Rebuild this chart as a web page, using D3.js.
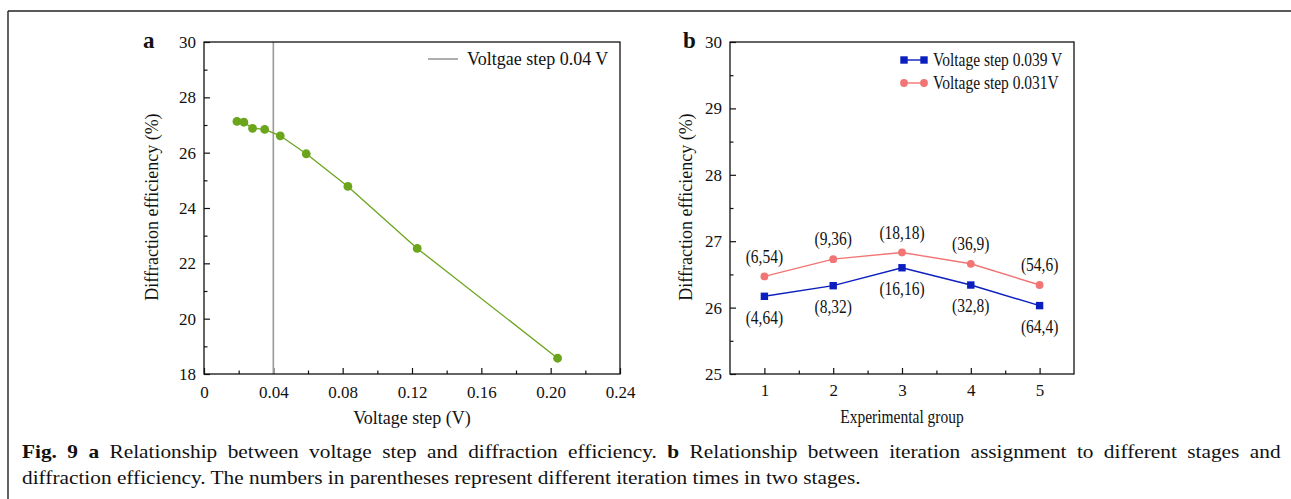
<!DOCTYPE html>
<html>
<head>
<meta charset="utf-8">
<script src="https://cdn.jsdelivr.net/npm/d3@7"></script>
<style>
  html, body { margin: 0; padding: 0; background: #fff; }
  svg { display: block; font-family: "Liberation Serif", "Times New Roman", serif; }
</style>
</head>
<body>
<svg id="chart" width="1291" height="499"></svg>
<script>
// ---- Data ----
const voltageStep = [0.019, 0.023, 0.028, 0.035, 0.044, 0.059, 0.083, 0.123, 0.204];
const efficiencyA = [27.13, 27.10, 26.88, 26.84, 26.61, 25.96, 24.78, 22.54, 18.57];
const referenceStep = 0.04;
const referenceLabel = "Voltgae step 0.04 V";
const xTicksA = [0, 0.04, 0.08, 0.12, 0.16, 0.20, 0.24];
const xTickLabelsA = ["0", "0.04", "0.08", "0.12", "0.16", "0.20", "0.24"];
const yTicksA = [18, 20, 22, 24, 26, 28, 30];

const groups = [1, 2, 3, 4, 5];
const eff039 = [26.17, 26.33, 26.60, 26.34, 26.03];
const eff031 = [26.47, 26.73, 26.83, 26.66, 26.34];
const labels039 = ["(4,64)", "(8,32)", "(16,16)", "(32,8)", "(64,4)"];
const labels031 = ["(6,54)", "(9,36)", "(18,18)", "(36,9)", "(54,6)"];
const seriesNames = ["Voltage step 0.039 V", "Voltage step 0.031V"];
const yTicksB = [25, 26, 27, 28, 29, 30];

const svg = d3.select("#chart");
const FS = 18;
const green = "#6ba51c", gray = "#9a9a9a", blue = "#0b1fbe", red = "#f27474";

// outer frame (top & left)
svg.append("line").attr("x1", 8).attr("y1", 11).attr("x2", 1291).attr("y2", 11).attr("stroke", "#222").attr("stroke-width", 1.4);
svg.append("line").attr("x1", 8).attr("y1", 11).attr("x2", 8).attr("y2", 499).attr("stroke", "#222").attr("stroke-width", 1.4);

function styleAxis(g) {
  g.select(".domain").remove();
  g.selectAll(".tick line").attr("stroke", "#111").attr("stroke-width", 1.2);
  g.selectAll(".tick text").attr("fill", "#111").attr("font-size", 17).attr("font-family", "Liberation Serif, Times New Roman, serif");
}

// ---------- Panel a ----------
const A = {x0: 204, x1: 620, y0: 42, y1: 374};
const xA = d3.scaleLinear().domain([0, 0.24]).range([A.x0, A.x1]);
const yA = d3.scaleLinear().domain([18, 30]).range([A.y1, A.y0]);
const gA = svg.append("g");

gA.append("g").attr("transform", `translate(0,${A.y1})`)
  .call(d3.axisBottom(xA).tickValues(d3.range(0.02, 0.24, 0.04)).tickSize(-3.5).tickFormat("")).call(styleAxis);
gA.append("g").attr("transform", `translate(${A.x0},0)`)
  .call(d3.axisLeft(yA).tickValues(d3.range(19, 30, 2)).tickSize(-3.5).tickFormat("")).call(styleAxis);
gA.append("g").attr("transform", `translate(0,${A.y1})`)
  .call(d3.axisBottom(xA).tickValues(xTicksA).tickSize(-6).tickPadding(12).tickFormat((d, i) => xTickLabelsA[i])).call(styleAxis);
gA.append("g").attr("transform", `translate(${A.x0},0)`)
  .call(d3.axisLeft(yA).tickValues(yTicksA).tickSize(-6).tickPadding(8).tickFormat(d3.format("d"))).call(styleAxis);

gA.append("line").attr("x1", xA(referenceStep)).attr("x2", xA(referenceStep)).attr("y1", A.y0).attr("y2", A.y1)
  .attr("stroke", gray).attr("stroke-width", 1.6);

const ptsA = voltageStep.map((v, i) => [v, efficiencyA[i]]);
gA.append("path").datum(ptsA)
  .attr("d", d3.line().x(d => xA(d[0])).y(d => yA(d[1])))
  .attr("fill", "none").attr("stroke", green).attr("stroke-width", 1.3);
gA.selectAll("circle.pa").data(ptsA).enter().append("circle")
  .attr("cx", d => xA(d[0])).attr("cy", d => yA(d[1])).attr("r", 4.4).attr("fill", green);

gA.append("rect").attr("x", A.x0).attr("y", A.y0).attr("width", A.x1 - A.x0).attr("height", A.y1 - A.y0)
  .attr("fill", "none").attr("stroke", "#111").attr("stroke-width", 1.3);

gA.append("line").attr("x1", 428).attr("x2", 458).attr("y1", 59).attr("y2", 59).attr("stroke", gray).attr("stroke-width", 1.6);
gA.append("text").attr("x", 467).attr("y", 65).attr("font-size", FS).attr("fill", "#111").text(referenceLabel);

gA.append("text").attr("x", 412).attr("y", 424).attr("text-anchor", "middle").attr("font-size", FS).attr("fill", "#111").text("Voltage step (V)");
gA.append("text").attr("transform", "translate(158,207) rotate(-90)").attr("text-anchor", "middle").attr("font-size", FS).attr("fill", "#111").text("Diffraction efficiency (%)");
gA.append("text").attr("x", 143).attr("y", 48).attr("font-size", 23).attr("font-weight", "bold").attr("fill", "#111").text("a");

// ---------- Panel b ----------
const B = {x0: 730, x1: 1074, y0: 42, y1: 374};
const xB = d3.scaleLinear().domain([0.5, 5.5]).range([B.x0, B.x1]);
const yB = d3.scaleLinear().domain([25, 30]).range([B.y1, B.y0]);
const gB = svg.append("g");

gB.append("g").attr("transform", `translate(0,${B.y1})`)
  .call(d3.axisBottom(xB).tickValues([1.5, 2.5, 3.5, 4.5]).tickSize(-3.5).tickFormat("")).call(styleAxis);
gB.append("g").attr("transform", `translate(${B.x0},0)`)
  .call(d3.axisLeft(yB).tickValues(d3.range(25.5, 30, 1)).tickSize(-3.5).tickFormat("")).call(styleAxis);
gB.append("g").attr("transform", `translate(0,${B.y1})`)
  .call(d3.axisBottom(xB).tickValues(groups).tickSize(-6).tickPadding(10).tickFormat(d3.format("d"))).call(styleAxis);
gB.append("g").attr("transform", `translate(${B.x0},0)`)
  .call(d3.axisLeft(yB).tickValues(yTicksB).tickSize(-6).tickPadding(8).tickFormat(d3.format("d"))).call(styleAxis);

const lineB = d3.line().x(d => xB(d[0])).y(d => yB(d[1]));
const pts039 = groups.map((g, i) => [g, eff039[i], labels039[i]]);
const pts031 = groups.map((g, i) => [g, eff031[i], labels031[i]]);

gB.append("path").datum(pts031).attr("d", lineB).attr("fill", "none").attr("stroke", red).attr("stroke-width", 1.4);
gB.append("path").datum(pts039).attr("d", lineB).attr("fill", "none").attr("stroke", blue).attr("stroke-width", 1.4);
gB.selectAll("circle.pr").data(pts031).enter().append("circle")
  .attr("cx", d => xB(d[0])).attr("cy", d => yB(d[1])).attr("r", 3.9).attr("fill", red);
gB.selectAll("rect.pb").data(pts039).enter().append("rect")
  .attr("x", d => xB(d[0]) - 3.7).attr("y", d => yB(d[1]) - 3.7).attr("width", 7.4).attr("height", 7.4).attr("fill", blue);

const squeezeTexts = [];
gB.selectAll("text.lr").data(pts031).enter().append("text")
  .attr("x", d => xB(d[0])).attr("y", d => yB(d[1]) - 20).attr("dy", "0.35em")
  .attr("text-anchor", "middle").attr("font-size", FS).attr("fill", "#111").text(d => d[2])
  .each(function() { squeezeTexts.push(this); });
gB.selectAll("text.lb").data(pts039).enter().append("text")
  .attr("x", d => xB(d[0])).attr("y", d => yB(d[1]) + 21).attr("dy", "0.35em")
  .attr("text-anchor", "middle").attr("font-size", FS).attr("fill", "#111").text(d => d[2])
  .each(function() { squeezeTexts.push(this); });

gB.append("rect").attr("x", B.x0).attr("y", B.y0).attr("width", B.x1 - B.x0).attr("height", B.y1 - B.y0)
  .attr("fill", "none").attr("stroke", "#111").attr("stroke-width", 1.3);

const legY = [60, 83];
gB.append("line").attr("x1", 904).attr("x2", 924).attr("y1", legY[0]).attr("y2", legY[0]).attr("stroke", blue).attr("stroke-width", 1.4);
[904, 924].forEach(x => gB.append("rect").attr("x", x - 3.7).attr("y", legY[0] - 3.7).attr("width", 7.4).attr("height", 7.4).attr("fill", blue));
gB.append("line").attr("x1", 904).attr("x2", 924).attr("y1", legY[1]).attr("y2", legY[1]).attr("stroke", red).attr("stroke-width", 1.4);
[904, 924].forEach(x => gB.append("circle").attr("cx", x).attr("cy", legY[1]).attr("r", 3.9).attr("fill", red));
seriesNames.forEach((n, i) => {
  const t = gB.append("text").attr("x", 933).attr("y", legY[i]).attr("dy", "0.35em").attr("font-size", FS).attr("fill", "#111").text(n);
  squeezeTexts.push(t.node());
});

const tx = gB.append("text").attr("x", 902).attr("y", 423).attr("text-anchor", "middle").attr("font-size", FS).attr("fill", "#111").text("Experimental group");
squeezeTexts.push(tx.node());
gB.append("text").attr("transform", "translate(692,207) rotate(-90)").attr("text-anchor", "middle").attr("font-size", FS).attr("fill", "#111").text("Diffraction efficiency (%)");
gB.append("text").attr("x", 683).attr("y", 48).attr("font-size", 23).attr("font-weight", "bold").attr("fill", "#111").text("b");

squeezeTexts.forEach(el => {
  const w = el.getComputedTextLength();
  d3.select(el).attr("textLength", w * 0.86).attr("lengthAdjust", "spacingAndGlyphs");
});

// ---------- Caption ----------
const CFS = 18.5;
const cap2 = svg.append("text").attr("font-size", CFS).attr("fill", "#111")
  .text("diffraction efficiency. The numbers in parentheses represent different iteration times in two stages.");
const w2 = cap2.node().getComputedTextLength();
const stretch = 839 / w2;
cap2.attr("transform", `translate(22,484) scale(${stretch},1)`);

const cap1 = svg.append("text").attr("font-size", CFS).attr("fill", "#111");
cap1.append("tspan").attr("font-weight", "bold").text("Fig. 9 a");
cap1.append("tspan").text(" Relationship between voltage step and diffraction efficiency. ");
cap1.append("tspan").attr("font-weight", "bold").text("b");
cap1.append("tspan").text(" Relationship between iteration assignment to different stages and");
const w1 = cap1.node().getComputedTextLength();
const nSpaces = (cap1.text().match(/ /g) || []).length;
const extra = (1259 / stretch - w1) / nSpaces;
cap1.attr("word-spacing", Math.max(0, extra)).attr("transform", `translate(22,458) scale(${stretch},1)`);
</script>
</body>
</html>
